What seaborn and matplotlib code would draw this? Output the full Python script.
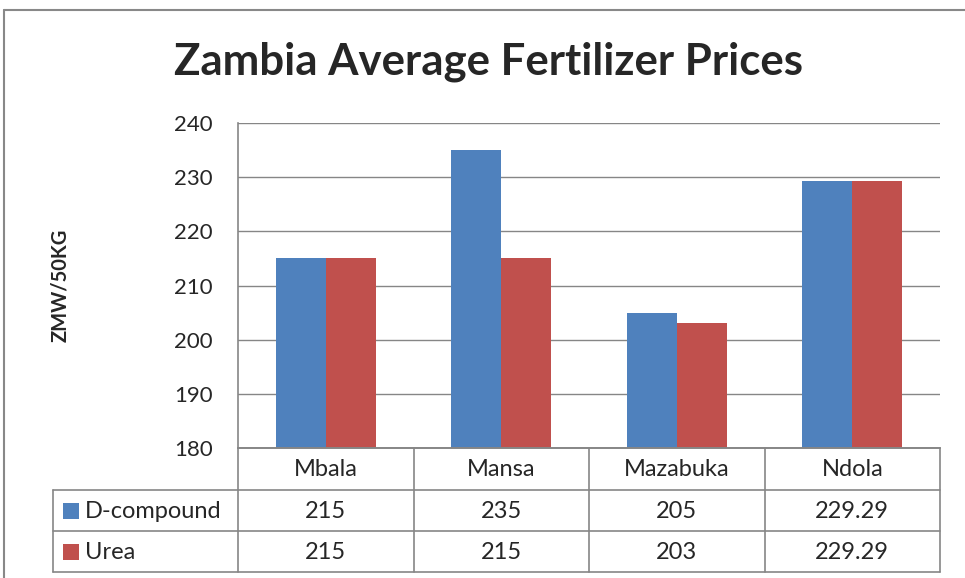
import numpy as np
import pandas as pd
import matplotlib
matplotlib.use("Agg")
import matplotlib.pyplot as plt
from matplotlib.lines import Line2D
from matplotlib.patches import Rectangle
import seaborn as sns

# data
towns = ['Mbala', 'Mansa', 'Mazabuka', 'Ndola']
series = ['D-compound', 'Urea']
d_compound = [215, 235, 205, 229.29]
urea = [215, 215, 203, 229.29]
value_labels = {'D-compound': ['215', '235', '205', '229.29'],
                'Urea': ['215', '215', '203', '229.29']}
colors = ['#4F81BD', '#C0504D']
yticks = [180, 190, 200, 210, 220, 230, 240]

df = pd.DataFrame({
    'town': towns * 2,
    'series': [series[0]] * 4 + [series[1]] * 4,
    'price': d_compound + urea,
})

sns.set_style('white')
plt.rcParams['font.family'] = ['Lato', 'DejaVu Sans']

W, H = 965, 578
fig = plt.figure(figsize=(W / 100, H / 100), dpi=100)

def fx(px):
    return px / W

def fy(py):
    return 1 - py / H

grid_c = '#868686'
x0, x1 = 238, 940
y_top, y_bot = 123, 448
ax = fig.add_axes([fx(x0), fy(y_bot), fx(x1) - fx(x0), fy(y_top) - fy(y_bot)])

sns.barplot(data=df, x='town', y='price', hue='series', palette=colors,
            width=0.57, gap=0, saturation=1, linewidth=0, ax=ax, legend=False)
ax.set_ylim(180, 240)
ax.set_xlim(-0.5, 3.5)
ax.set_yticks(yticks)
ax.set_yticklabels([str(t) for t in yticks], fontsize=16)
ax.set_xticks([])
ax.set_xlabel('')
ax.set_ylabel('')
ax.tick_params(axis='y', length=0, pad=18)
ax.yaxis.grid(True, color=grid_c, lw=1)
ax.set_axisbelow(True)
for s in ['top', 'right']:
    ax.spines[s].set_visible(False)
for s in ['left', 'bottom']:
    ax.spines[s].set_color(grid_c)
    ax.spines[s].set_linewidth(1.2)

# title and y label
fig.text(fx(488), fy(62), 'Zambia Average Fertilizer Prices', ha='center', va='center',
         fontsize=31.5, fontweight='bold')
fig.text(fx(60), fy(285), 'ZMW/50KG', rotation=90, ha='center', va='center',
         fontsize=14.5, fontweight='bold')

# outer chart border (cropped on right/bottom)
fig.add_artist(Line2D([fx(4), fx(4)], [fy(10), 0], color='#888888', lw=1.5))
fig.add_artist(Line2D([fx(4), 1], [fy(10), fy(10)], color='#888888', lw=1.5))

# data table below the axis
col_w = (x1 - x0) / 4
row_y = [448, 490, 531, 572]
tab_left = 53

def hline(xa, xb, y):
    fig.add_artist(Line2D([fx(xa), fx(xb)], [fy(y), fy(y)], color=grid_c, lw=1.2))

def vline(x, ya, yb):
    fig.add_artist(Line2D([fx(x), fx(x)], [fy(ya), fy(yb)], color=grid_c, lw=1.2))

hline(x0, x1, row_y[0])
for y in row_y[1:]:
    hline(tab_left, x1, y)
for i in range(5):
    vline(x0 + i * col_w, row_y[0], row_y[3])
vline(tab_left, row_y[1], row_y[3])

for i, t in enumerate(towns):
    fig.text(fx(x0 + (i + 0.5) * col_w), fy((row_y[0] + row_y[1]) / 2 + 1), t,
             ha='center', va='center', fontsize=17)

for r, (s, c) in enumerate(zip(series, colors)):
    yc = (row_y[r + 1] + row_y[r + 2]) / 2
    fig.add_artist(Rectangle((fx(63), fy(yc + 8)), fx(16), fy(yc - 8) - fy(yc + 8),
                             facecolor=c, edgecolor='none'))
    fig.text(fx(85), fy(yc + 1), s, ha='left', va='center', fontsize=17)
    for i, v in enumerate(value_labels[s]):
        fig.text(fx(x0 + (i + 0.5) * col_w), fy(yc + 1), v,
                 ha='center', va='center', fontsize=17)

fig.savefig('out.png', dpi=100)
